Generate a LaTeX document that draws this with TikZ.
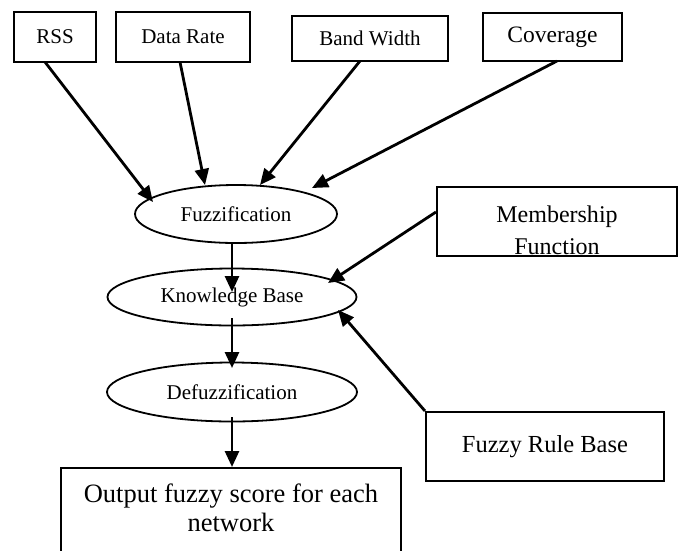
\documentclass[tikz,border=0pt]{standalone}
\usepackage{fontspec}
\setmainfont{Liberation Serif}
\usetikzlibrary{shapes.geometric,arrows.meta,calc}

\tikzset{
  inputbox/.style={draw, line width=2.1pt, rectangle, inner sep=0pt,
    font=\fontsize{21}{25}\selectfont},
  sidebox/.style={draw, line width=2.1pt, rectangle, inner sep=0pt,
    font=\fontsize{24.5}{30}\selectfont, align=center},
  stage/.style={draw, line width=1.8pt, ellipse, inner sep=0pt,
    font=\fontsize{21}{25}\selectfont},
  flow/.style={line width=2.8pt, -{Triangle[length=16pt,width=14pt]}},
  bigtext/.style={font=\fontsize{26.5}{29}\selectfont, align=center, inner sep=0pt}
}

\begin{document}
\begin{tikzpicture}[x=1pt,y=-1pt]
  \useasboundingbox (0,0) rectangle (682,550);

  % input parameters
  \node[inputbox, minimum width=82pt,  minimum height=50pt] (rss) at (55,37)    {RSS};
  \node[inputbox, minimum width=134pt, minimum height=50pt] (dr)  at (183,37)   {Data Rate};
  \node[inputbox, minimum width=156pt, minimum height=45pt] (bw)  at (370,38.5) {Band Width};
  \node[inputbox, minimum width=139pt, minimum height=48pt,
        font=\fontsize{23.5}{28}\selectfont] (cov) at (552.5,37) {Coverage};

  % fuzzy inference stages
  \node[stage, minimum width=202pt, minimum height=58pt] (fuz) at (236,214) {Fuzzification};
  \node[stage, minimum width=249pt, minimum height=57pt] (kb)  at (232,297) {Knowledge Base};
  \node[stage, minimum width=250pt, minimum height=59pt] (def) at (232,392) {Defuzzification};

  % membership function box (second line cut off by the frame)
  \node[sidebox, minimum width=240pt, minimum height=69pt] (mem) at (557,221.5) {};
  \begin{scope}
    \clip (438,188) rectangle (676,254);
    \node[sidebox, draw=none, font=\fontsize{24}{32}\selectfont, anchor=north]
      (memtext) at (557,205) {Membership\\Function};
  \end{scope}

  \node[sidebox, minimum width=238pt, minimum height=69pt] (frb) at (545,446.5) {Fuzzy Rule Base};

  % output box, running past the lower edge
  \node[draw, line width=2.1pt, rectangle, inner sep=0pt, anchor=north,
        minimum width=340pt, minimum height=110pt] (out) at (231,467) {};
  \node[bigtext, anchor=north] (outtext) at (231,484) {Output fuzzy score for each\\network};

  % connectors
  \draw[flow] ($(rss.center)+(-10,25)$)  -- ($(fuz.center)+(-83,-12)$);
  \draw[flow] ($(dr.center)+(-3,25)$)    -- ($(fuz.center)+(-31,-29)$);
  \draw[flow] ($(bw.center)+(-10,22.5)$) -- ($(fuz.center)+(24,-29)$);
  \draw[flow] ($(cov.center)+(4.5,24)$)  -- ($(fuz.center)+(76,-26)$);

  \draw[flow] ($(fuz.center)+(-4,29)$) -- ($(kb.center)+(0,-5)$);
  \draw[flow] ($(kb.center)+(0,21)$)   -- ($(def.center)+(0,-24)$);
  \draw[flow] ($(def.center)+(0,25)$)  -- ($(out.north)+(1,0)$);

  \draw[flow] ($(mem.west)+(0,-9.5)$) -- ($(kb.center)+(96,-14)$);
  \draw[flow] (frb.north west)        -- ($(kb.center)+(106,13)$);
\end{tikzpicture}
\end{document}
